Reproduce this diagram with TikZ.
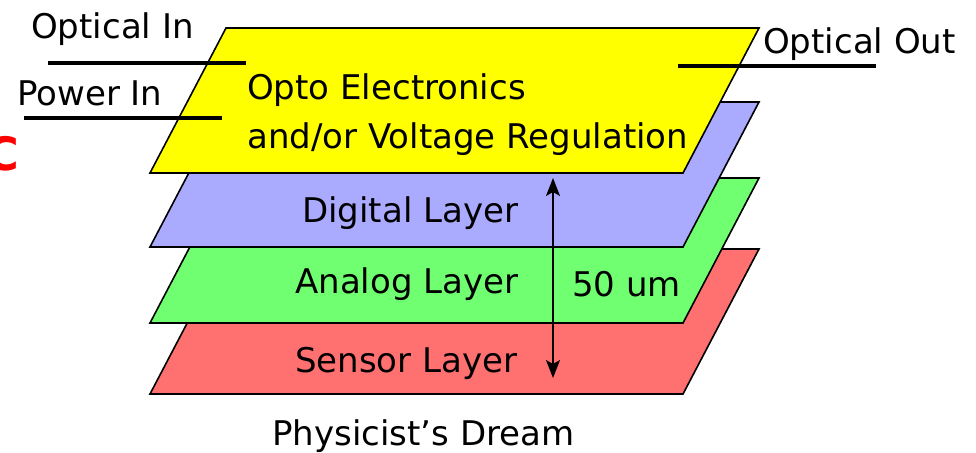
\documentclass[tikz,border=0pt]{standalone}
\usepackage{fontspec}
\setmainfont{DejaVu Sans}
\usetikzlibrary{arrows.meta}
\definecolor{sensorred}{RGB}{255,112,112}
\definecolor{analoggreen}{RGB}{112,255,112}
\definecolor{digitalblue}{RGB}{170,170,255}
\definecolor{optoyellow}{RGB}{255,255,0}

\begin{document}
\begin{tikzpicture}[x=1pt, y=-1pt]
        \tikzstyle{layer} = [draw, line width=1.6pt, line join=miter]
        \tikzstyle{lbl} = [font=\fontsize{34}{40}\selectfont, inner sep=0pt, anchor=base west]
        \tikzstyle{wire} = [line width=4pt]
        \useasboundingbox (0,0) rectangle (976,452);
        % stack of layers, bottom one first
        \foreach \y/\c in {249/sensorred, 178/analoggreen, 102/digitalblue, 28/optoyellow} {
          \filldraw[layer, fill=\c] (226,\y) -- (759,\y) -- (683,\y+145) -- (150,\y+145) -- cycle;
        }
        \node[lbl] (opto) at (247,99) {Opto Electronics};
        \node[lbl] (vreg) at (247,148) {and/or Voltage Regulation};
        \node[lbl] (digital) at (302,222) {Digital Layer};
        \node[lbl] (analog) at (295,293) {Analog Layer};
        \node[lbl] (sensor) at (295,372) {Sensor Layer};
        \node[lbl] (thick) at (572,296) {50 um};
        \node[lbl] (dream) at (272,445) {Physicist’s Dream};
        \node[lbl] (optin) at (31,38) {Optical In};
        \node[lbl] (powin) at (17,105) {Power In};
        \node[lbl] (optout) at (763,53) {Optical Out};
        \node[font=\fontsize{46}{52}\selectfont\bfseries, text=red, inner sep=0pt, anchor=base east] (asic) at (19,170) {C};
        % connections
        \coordinate (optin-a) at (48,63);
        \coordinate (optin-b) at (246,63);
        \coordinate (powin-a) at (24,118);
        \coordinate (powin-b) at (222,118);
        \coordinate (optout-a) at (678,66);
        \coordinate (optout-b) at (876,66);
        \draw[wire] (optin-a) -- (optin-b);
        \draw[wire] (powin-a) -- (powin-b);
        \draw[wire] (optout-a) -- (optout-b);
        \coordinate (top) at (553,178);
        \coordinate (bot) at (553,378);
        \draw[<->, >={Stealth[length=18pt, width=14pt, inset=4pt]}, line width=1.2pt] (top) -- (bot);
      \end{tikzpicture}
\end{document}
